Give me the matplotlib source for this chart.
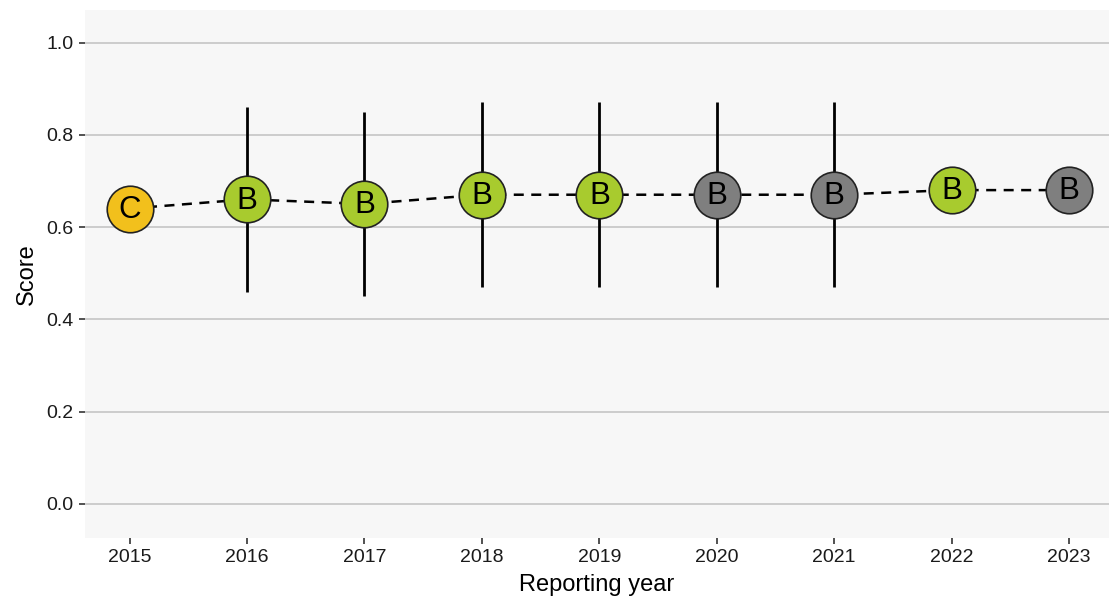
import numpy as np
import matplotlib
matplotlib.use("Agg")
import matplotlib.pyplot as plt

plt.rcParams['font.family'] = ['Liberation Sans', 'DejaVu Sans']

# data
years = [2015, 2016, 2017, 2018, 2019, 2020, 2021, 2022, 2023]
score = [0.64, 0.66, 0.65, 0.67, 0.67, 0.67, 0.67, 0.68, 0.68]
lower = [np.nan, 0.46, 0.45, 0.47, 0.47, 0.47, 0.47, np.nan, np.nan]
upper = [np.nan, 0.86, 0.85, 0.87, 0.87, 0.87, 0.87, np.nan, np.nan]
grade = ['C', 'B', 'B', 'B', 'B', 'B', 'B', 'B', 'B']
status = ['yellow', 'green', 'green', 'green', 'green', 'grey', 'grey', 'green', 'grey']

colours = {'yellow': '#F2C01C', 'green': '#A8CB2E', 'grey': '#7F7F7F'}

fig = plt.figure(figsize=(11.09, 6.01), dpi=100)
ax = fig.add_axes([0.0766, 0.105, 0.9234, 0.878])
ax.set_facecolor('#f7f7f7')

# gridlines
for v in [0.0, 0.2, 0.4, 0.6, 0.8, 1.0]:
    ax.axhline(v, color='#c9c9c9', lw=1.3, zorder=0)

# error bars
ax.vlines(years, lower, upper, color='black', lw=2, zorder=1)

# dashed trend line
ax.plot(years, score, color='black', ls=(0, (4, 3)), lw=1.8, zorder=2)

# circles with grade letters
for x, y, g, s in zip(years, score, grade, status):
    ax.plot(x, y, 'o', ms=33.5, mfc=colours[s], mec='#222222', mew=1.2, zorder=3)
    ax.text(x, y - 0.003, g, ha='center', va='center', fontsize=22.5, zorder=4)

ax.set_xlim(2014.62, 2023.34)
ax.set_ylim(-0.074, 1.07)
ax.set_xticks(years)
ax.set_xticklabels([str(y) for y in years])
ax.set_yticks([0.0, 0.2, 0.4, 0.6, 0.8, 1.0])
ax.set_yticklabels(['0.0', '0.2', '0.4', '0.6', '0.8', '1.0'])
ax.tick_params(axis='both', labelsize=14, length=4, width=1.2, color='#333333',
               labelcolor='#1a1a1a', pad=4)

for sp in ax.spines.values():
    sp.set_visible(False)

ax.set_xlabel('Reporting year', fontsize=17, labelpad=6)
ax.set_ylabel('Score', fontsize=17, labelpad=6)

fig.savefig('out.png', dpi=100, facecolor='white')
